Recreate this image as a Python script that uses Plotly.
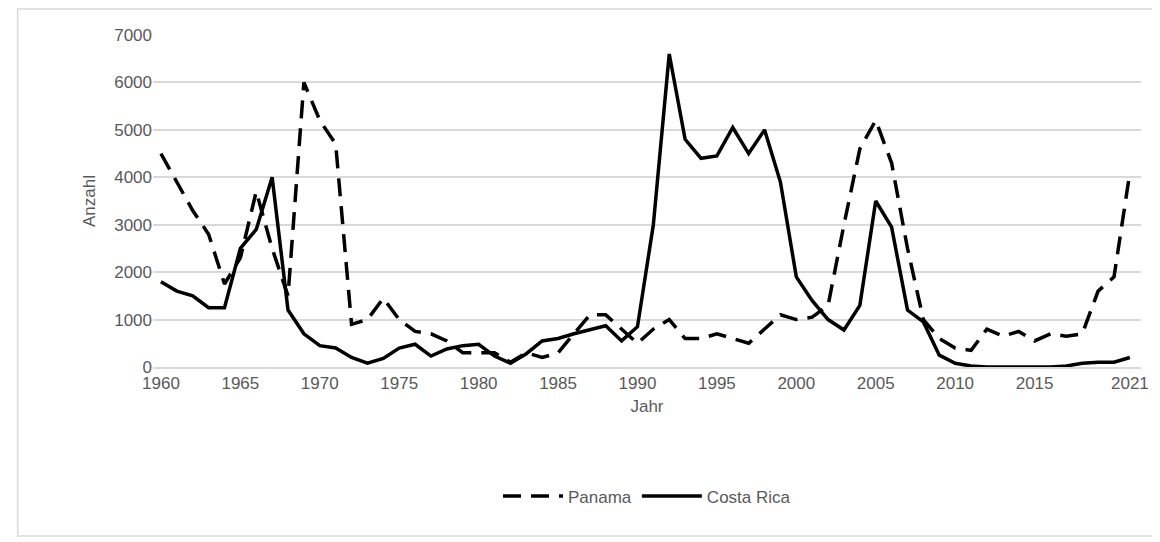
import plotly.graph_objects as go

years = list(range(1960, 2022))
panama = [4500, 3900, 3300, 2800, 1750, 2300, 3700, 2500, 1500, 6000,
          5200, 4700, 900, 1000, 1450, 1000, 750, 700, 550, 300,
          300, 300, 100, 300, 200, 300, 700, 1100, 1100, 800,
          500, 800, 1000, 600, 600, 700, 600, 500, 800, 1100,
          1000, 1050, 1300, 3000, 4600, 5200, 4300, 2500, 1000, 600,
          400, 350, 800, 650, 750, 550, 700, 650, 700, 1600,
          1900, 4100]
costa_rica = [1800, 1600, 1500, 1250, 1250, 2500, 2900, 4000, 1200, 700,
              450, 400, 200, 80, 180, 400, 480, 230, 380, 450,
              480, 230, 80, 280, 550, 600, 700, 780, 870, 550,
              850, 3000, 6600, 4800, 4400, 4450, 5050, 4500, 5000, 3900,
              1900, 1400, 1000, 780, 1300, 3500, 2950, 1200, 950, 250,
              80, 20, 0, 0, 0, 0, 0, 20, 80, 100,
              100, 200]
xticks = [1960, 1965, 1970, 1975, 1980, 1985, 1990, 1995, 2000, 2005, 2010, 2015, 2021]

fig = go.Figure()
fig.add_trace(go.Scatter(x=years, y=panama, mode="lines", name="Panama",
                         line=dict(color="black", width=3.5, dash="18px,10px")))
fig.add_trace(go.Scatter(x=years, y=costa_rica, mode="lines", name="Costa Rica",
                         line=dict(color="black", width=3.5)))

font = dict(family="Liberation Sans, Arial", size=17, color="#595959")
fig.update_layout(
    width=1160, height=542, paper_bgcolor="white", plot_bgcolor="white",
    margin=dict(l=145, r=27, t=27, b=183, autoexpand=False),
    font=font, showlegend=True,
    legend=dict(orientation="h", x=0.5, xanchor="center", y=-0.39, yanchor="middle",
                font=font, itemwidth=60),
    xaxis=dict(range=[1959.5, 2021.7], tickvals=xticks, showgrid=False,
               showline=True, linecolor="#d9d9d9", linewidth=1.5, ticks="",
               tickfont=font, title=dict(text="Jahr", font=font, standoff=8), zeroline=False),
    yaxis=dict(range=[0, 7000], dtick=1000, showgrid=True, gridcolor="#d9d9d9",
               gridwidth=1.5, zeroline=False, ticks="", tickfont=font,
               title=dict(text="Anzahl", font=font, standoff=14)),
    shapes=[dict(type="rect", xref="paper", yref="paper", x0=-0.137, x1=1.015,
                 y0=-0.509, y1=1.078, line=dict(color="#d9d9d9", width=1.5))],
)
fig.write_html("out.html")
